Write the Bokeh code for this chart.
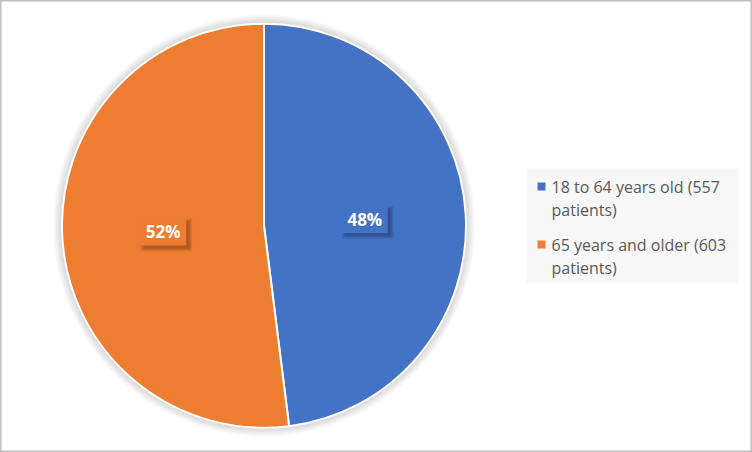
import math
from bokeh.plotting import figure
from bokeh.models import Range1d
from bokeh.embed import file_html
from bokeh.resources import INLINE
from bokeh.core.properties import value

# ---- data ----
categories = ["18 to 64 years old", "65 years and older"]
patients = [557, 603]
colors = ["#4472C4", "#ED7D31"]

total = sum(patients)
fractions = [n / total for n in patients]
pct_labels = [f"{round(100 * f)}%" for f in fractions]
legend_labels = [f"{c} ({n} patients)" for c, n in zip(categories, patients)]

# ---- layout ----
W, H = 752, 452
cx, cy, R = 263.5, 226.8, 202.0

p = figure(width=W, height=H, output_backend="svg", toolbar_location=None,
           x_range=Range1d(0, W), y_range=Range1d(0, H),
           x_axis_type=None, y_axis_type=None, min_border=0,
           background_fill_color="white", border_fill_color="white")
p.grid.visible = False
p.outline_line_color = "#bfbfbf"
p.outline_line_width = 2

# soft glow around the pie
for k in range(8):
    p.circle(x=cx, y=cy, radius=R + 9 - k * 1.1, fill_color="black",
             fill_alpha=0.018, line_color=None)

# wedges
start = 0.0
mids = []
for f, col in zip(fractions, colors):
    a0 = math.pi / 2 - 2 * math.pi * start
    a1 = math.pi / 2 - 2 * math.pi * (start + f)
    p.wedge(x=cx, y=cy, radius=R, start_angle=a0, end_angle=a1,
            direction="clock", fill_color=col, line_color="white",
            line_width=2)
    mids.append(math.pi / 2 - 2 * math.pi * (start + f / 2))
    start += f

# data labels with soft shadowed boxes
for m, lab, col in zip(mids, pct_labels, colors):
    lx = cx + 0.5 * R * math.cos(m)
    ly = cy + 0.5 * R * math.sin(m)
    for s in range(8, 0, -1):
        p.rect(x=lx + 3, y=ly - 3, width=44 + s, height=25 + s,
               fill_color="black", fill_alpha=0.035, line_color=None)
    p.rect(x=lx, y=ly, width=46, height=27, fill_color=col, line_color=None)
    p.text(x=[lx], y=[ly], text=[lab], text_align="center",
           text_baseline="middle", text_color="white",
           text_font=value("Open Sans"), text_font_style="bold",
           text_font_size="17px")

# legend
p.rect(x=(526 + 738) / 2, y=(284 + 169) / 2, width=212, height=115,
       fill_color="#f7f7f7", line_color=None)
for i, (lab, col) in enumerate(zip(legend_labels, colors)):
    y0 = 266 - i * 58
    p.rect(x=541, y=y0, width=8, height=8, fill_color=col, line_color=None)
    lines = lab.rsplit(" ", 1)
    for j, line in enumerate(lines):
        p.text(x=[551], y=[y0 - j * 23], text=[line], text_align="left",
               text_baseline="middle", text_color="#595959",
               text_font=value("Open Sans"), text_font_size="16px")

open("out.html", "w").write(file_html(p, INLINE))
